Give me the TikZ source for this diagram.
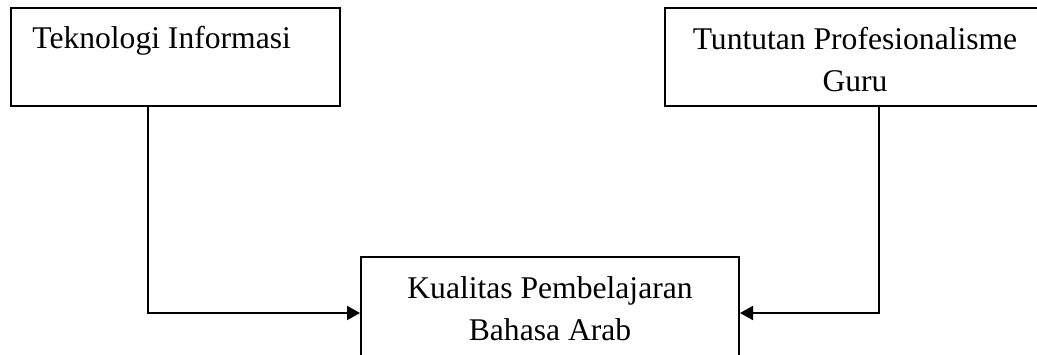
\documentclass[tikz,border=0pt]{standalone}
\usepackage{fontspec}
\setmainfont{Liberation Serif}
\usetikzlibrary{arrows.meta}
\begin{document}
\begin{tikzpicture}[x=0.5pt,y=-0.5pt,
  box/.style={draw,line width=1pt,rectangle,inner sep=0pt},
  lbl/.style={inner sep=0pt,font=\fontsize{15.8}{21}\selectfont},
  arr/.style={line width=1pt,-{Triangle[length=6.5pt,width=7pt]}}]
\useasboundingbox (0,0) rectangle (1037,354);
\clip (0,0) rectangle (1037,354);
% boxes
\node[box,minimum width=164.5pt,minimum height=49pt] (ti) at (175.5,57) {};
\node[box,minimum width=190pt,minimum height=49pt] (tp) at (855,57) {};
\node[box,minimum width=189pt,minimum height=56pt] (kp) at (550,313) {};
% texts
\node[lbl,anchor=base west] (tit) at (32,48) {Teknologi Informasi};
\node[lbl,anchor=north,align=center] (tpt) at (855,26.4) {Tuntutan Profesionalisme\\Guru};
\node[lbl,anchor=north,align=center] (kpt) at (550,276.4) {Kualitas Pembelajaran\\Bahasa Arab};
% connectors
\draw[arr] (ti.south west) ++(138,0) |- (kp.west);
\draw[arr] (tp.south west) ++(215,0) |- (kp.east);
\end{tikzpicture}
\end{document}
